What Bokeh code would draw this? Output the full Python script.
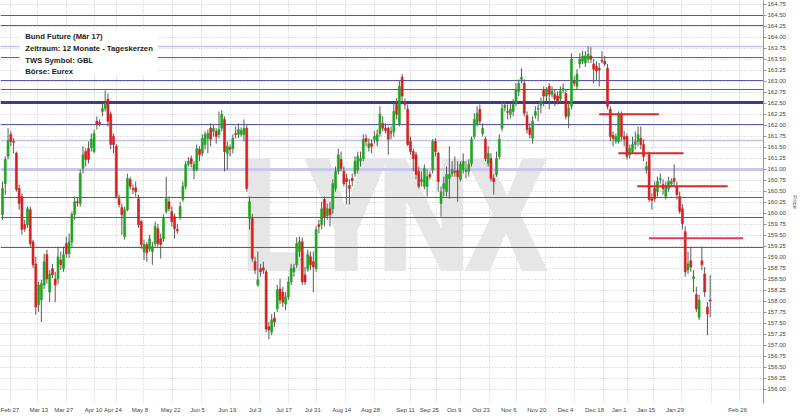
from bokeh.plotting import figure
from bokeh.models import (ColumnDataSource, FixedTicker, Range1d, Label,
                          CustomJSTickFormatter, PrintfTickFormatter)
from bokeh.embed import file_html
from bokeh.resources import INLINE

# ---------------- data ----------------
opens = [
    159.97, 160.67, 161.29, 161.79, 161.63, 161.36, 160.56, 160.38, 159.74, 159.74,
    160.08, 159.35, 158.85, 157.92, 158.03, 158.37, 159.06, 158.21, 158.74, 158.51,
    158.51, 158.94, 158.74, 159.31, 159.08, 159.35, 159.97, 160.26, 160.22, 161.02,
    161.40, 161.47, 161.49, 161.40, 162.09, 162.06, 162.31, 162.38, 162.59, 162.25,
    161.74, 161.52, 160.33, 160.13, 159.47, 160.08, 160.77, 160.56, 160.58, 160.33,
    159.81, 159.13, 159.29, 159.19, 159.13, 159.31, 159.65, 159.42, 159.42, 160.04,
    160.26, 160.04, 159.92, 159.63, 159.92, 160.31, 160.61, 161.11, 161.24, 160.97,
    160.99, 161.45, 161.36, 161.56, 161.70, 161.93, 161.86, 161.86, 161.79, 161.93,
    162.13, 161.36, 161.49, 161.47, 161.81, 161.79, 161.79, 161.79, 161.93, 159.88,
    159.88, 158.90, 158.37, 158.74, 158.76, 158.67, 157.42, 157.30, 157.62, 157.83,
    158.28, 158.21, 157.94, 158.10, 158.44, 158.67, 158.83, 159.13, 159.35, 158.60,
    158.74, 159.01, 158.90, 158.74, 159.74, 159.74, 160.31, 159.94, 160.10, 160.10,
    160.56, 160.95, 161.22, 160.95, 160.79, 160.63, 160.79, 160.90, 160.99, 161.18,
    161.24, 161.70, 161.49, 161.58, 161.68, 161.63, 161.81, 162.04, 161.93, 161.93,
    161.81, 161.86, 162.47, 162.02, 163.09, 162.54, 162.36, 161.63, 161.40, 161.33,
    160.95, 160.72, 160.61, 160.61, 160.88, 160.99, 161.63, 161.36, 160.22, 160.56,
    160.49, 160.79, 160.90, 160.95, 160.97, 160.77, 160.99, 160.95, 160.95, 161.13,
    161.74, 162.02, 162.36, 161.81, 161.68, 161.13, 161.24, 160.79, 160.88, 161.29,
    161.93, 162.40, 162.31, 162.25, 162.31, 162.50, 162.77, 163.04, 162.95, 162.22,
    161.93, 161.70, 162.22, 162.36, 162.45, 162.79, 162.66, 162.88, 162.70, 162.70,
    162.66, 162.59, 162.79, 162.72, 162.20, 162.43, 163.00, 162.88, 163.39, 163.45,
    163.41, 163.50, 163.57, 163.39, 163.34, 163.29, 163.47, 163.45, 163.29, 162.36,
    161.77, 161.63, 161.63, 162.25, 161.74, 161.74, 161.33, 161.40, 161.56, 161.63,
    161.70, 161.56, 160.99, 161.33, 160.33, 160.56, 160.49, 160.77, 160.65, 160.38,
    160.56, 160.67, 160.79, 160.61, 160.38, 160.10, 159.58, 158.71, 158.92, 158.51,
    158.15, 157.64, 158.92, 158.62, 157.87, 158.03,
]
closes = [
    160.56, 161.22, 161.65, 161.63, 161.61, 160.54, 160.22, 159.63, 159.65, 160.10,
    159.31, 158.83, 157.87, 158.37, 158.40, 158.90, 158.51, 158.62, 158.60, 158.37,
    159.01, 158.83, 159.06, 159.08, 159.35, 159.97, 160.26, 160.24, 160.90, 161.33,
    161.22, 161.22, 161.68, 161.81, 162.02, 162.04, 162.38, 162.50, 162.09, 161.56,
    161.56, 160.38, 160.20, 159.97, 160.08, 160.79, 160.61, 160.54, 160.49, 159.74,
    159.29, 159.29, 159.10, 159.42, 159.24, 159.70, 159.31, 159.29, 159.88, 160.33,
    160.10, 159.81, 159.65, 159.60, 160.15, 160.61, 161.11, 161.18, 161.13, 161.11,
    161.47, 161.33, 161.70, 161.79, 161.81, 161.68, 161.93, 161.74, 161.90, 162.25,
    161.40, 161.52, 161.45, 161.70, 161.79, 161.90, 161.88, 161.93, 160.56, 160.26,
    158.97, 158.71, 158.49, 158.67, 158.71, 157.37, 157.35, 157.58, 157.53, 158.26,
    158.03, 157.98, 158.10, 158.44, 158.74, 158.76, 159.31, 159.35, 158.44, 158.44,
    159.06, 158.83, 158.78, 159.63, 159.70, 160.10, 159.92, 160.10, 159.97, 160.67,
    160.95, 161.33, 161.02, 160.67, 160.72, 160.56, 160.74, 161.18, 161.29, 161.24,
    161.68, 161.63, 161.58, 161.52, 161.74, 161.79, 162.25, 161.93, 161.88, 161.68,
    161.86, 162.31, 162.25, 162.88, 162.66, 162.47, 161.56, 161.40, 161.24, 160.88,
    160.61, 160.77, 161.02, 160.83, 160.83, 161.63, 161.40, 160.72, 160.49, 160.67,
    160.88, 160.88, 160.99, 160.93, 160.83, 161.11, 161.18, 160.97, 161.11, 161.68,
    162.13, 162.27, 162.09, 161.93, 161.24, 161.36, 160.79, 160.72, 161.24, 161.68,
    162.38, 162.45, 162.29, 162.36, 162.47, 162.81, 162.95, 163.09, 162.27, 161.90,
    161.79, 162.09, 162.31, 162.38, 162.54, 162.66, 162.79, 162.70, 162.77, 162.59,
    162.54, 162.77, 162.84, 162.20, 162.38, 163.50, 162.95, 163.16, 163.50, 163.57,
    163.57, 163.61, 163.50, 163.27, 163.23, 163.25, 163.45, 163.39, 162.43, 161.74,
    161.70, 161.74, 162.25, 161.74, 161.68, 161.29, 161.47, 161.56, 161.63, 161.79,
    161.56, 161.29, 161.06, 160.31, 160.29, 160.33, 160.72, 160.79, 160.56, 160.61,
    160.72, 160.72, 160.72, 160.42, 160.04, 159.76, 158.67, 158.85, 158.78, 158.56,
    157.83, 158.03, 158.83, 158.21, 157.71, 158.01,
]
highs = [
    160.72, 161.29, 161.93, 161.86, 161.70, 161.40, 160.65, 160.45, 159.85, 160.15,
    160.15, 159.40, 159.01, 158.44, 158.49, 159.08, 159.17, 158.71, 158.85, 158.67,
    159.24, 159.13, 159.24, 159.47, 159.54, 160.04, 160.38, 160.35, 160.99, 161.52,
    161.47, 161.63, 161.81, 161.90, 162.20, 162.13, 162.54, 162.79, 162.72, 162.31,
    161.81, 161.56, 160.42, 160.22, 160.15, 160.90, 160.83, 160.65, 160.72, 160.42,
    159.85, 159.40, 159.35, 159.51, 159.35, 159.81, 159.76, 159.54, 159.97, 160.83,
    160.38, 160.15, 159.99, 159.76, 160.26, 160.72, 161.18, 161.27, 161.31, 161.18,
    161.56, 161.52, 161.79, 161.86, 161.90, 162.04, 162.00, 161.93, 162.31, 162.34,
    162.20, 161.63, 161.56, 161.79, 161.97, 162.04, 161.95, 162.13, 162.00, 160.38,
    159.99, 159.01, 159.13, 158.85, 158.90, 158.71, 157.53, 157.71, 157.76, 158.37,
    158.51, 158.33, 158.21, 158.56, 158.85, 158.85, 159.45, 159.47, 159.45, 158.78,
    159.17, 159.13, 159.13, 159.70, 159.85, 160.26, 160.38, 160.22, 160.26, 160.77,
    161.06, 161.47, 161.40, 161.06, 160.90, 160.77, 160.90, 161.29, 161.40, 161.40,
    161.79, 161.79, 161.70, 161.68, 161.86, 161.90, 162.43, 162.20, 162.04, 161.97,
    161.97, 162.54, 162.61, 163.00, 163.16, 162.61, 162.47, 161.74, 161.47, 161.40,
    161.06, 160.95, 161.11, 160.99, 160.95, 161.68, 161.70, 161.40, 160.61, 160.83,
    161.06, 161.52, 161.18, 161.29, 161.18, 161.18, 161.36, 161.18, 161.22, 161.74,
    162.27, 162.43, 162.47, 162.04, 161.74, 161.52, 161.36, 160.88, 161.40, 161.79,
    162.54, 162.54, 162.47, 162.50, 162.59, 162.95, 163.04, 163.29, 163.04, 162.31,
    162.04, 162.20, 162.43, 162.47, 162.63, 162.88, 162.86, 162.95, 162.88, 162.81,
    162.77, 162.88, 162.95, 162.81, 162.54, 163.63, 163.11, 163.27, 163.63, 163.68,
    163.68, 163.79, 163.77, 163.50, 163.45, 163.41, 163.68, 163.57, 163.39, 162.43,
    161.86, 161.81, 162.31, 162.31, 161.86, 161.81, 161.56, 161.74, 161.86, 161.97,
    161.97, 161.68, 161.18, 161.40, 160.45, 160.72, 160.83, 160.90, 160.77, 160.72,
    160.83, 160.79, 161.11, 160.72, 160.49, 160.20, 159.70, 159.13, 159.24, 158.71,
    158.33, 158.15, 159.24, 158.78, 157.98, 158.60,
]
lows = [
    159.85, 160.42, 161.22, 161.52, 161.36, 160.49, 160.08, 159.51, 159.58, 159.67,
    159.24, 158.76, 157.69, 157.76, 157.53, 158.28, 158.40, 157.98, 158.53, 157.98,
    158.40, 158.71, 158.67, 158.99, 158.99, 159.24, 159.85, 160.15, 160.15, 160.90,
    161.06, 161.13, 161.40, 161.36, 161.90, 161.97, 162.20, 162.31, 161.97, 161.45,
    161.36, 160.33, 160.13, 159.51, 159.40, 160.04, 160.54, 160.44, 160.38, 159.67,
    159.19, 158.94, 158.90, 159.13, 158.83, 159.24, 159.24, 158.97, 159.35, 159.99,
    160.04, 159.70, 159.42, 159.54, 159.85, 160.26, 160.54, 161.06, 161.04, 160.77,
    160.95, 161.18, 161.29, 161.45, 161.36, 161.52, 161.74, 161.58, 161.70, 161.86,
    160.95, 160.99, 161.29, 161.36, 161.70, 161.70, 161.74, 161.63, 160.49, 159.63,
    158.90, 158.62, 158.33, 158.56, 158.62, 157.30, 157.14, 157.23, 157.42, 157.76,
    157.94, 157.87, 157.80, 158.03, 158.37, 158.56, 158.76, 159.01, 158.37, 158.37,
    158.67, 158.71, 158.21, 158.67, 159.54, 159.63, 159.70, 159.85, 159.70, 159.99,
    160.49, 160.88, 160.95, 160.61, 160.20, 160.20, 160.61, 160.83, 160.90, 161.06,
    161.18, 161.52, 161.40, 161.36, 161.58, 161.52, 161.74, 161.86, 161.81, 161.33,
    161.68, 161.74, 162.13, 161.97, 162.54, 162.36, 161.52, 161.33, 160.95, 160.77,
    160.56, 160.61, 160.54, 160.38, 160.77, 160.90, 161.29, 160.49, 159.92, 160.38,
    160.38, 160.33, 160.83, 160.83, 160.26, 160.72, 160.90, 160.79, 160.83, 161.06,
    161.68, 161.97, 162.02, 161.74, 161.18, 161.06, 160.72, 160.42, 160.83, 161.22,
    161.86, 162.31, 162.13, 162.15, 162.20, 162.43, 162.66, 162.95, 162.20, 161.81,
    161.70, 161.58, 162.15, 162.09, 162.27, 162.43, 162.54, 162.36, 162.63, 162.43,
    162.47, 162.50, 162.72, 162.13, 161.93, 162.36, 162.88, 162.81, 163.29, 163.39,
    163.32, 163.41, 163.41, 162.95, 163.00, 162.88, 163.41, 163.34, 162.36, 161.63,
    161.52, 161.58, 161.58, 161.63, 161.52, 161.22, 161.24, 161.36, 161.45, 161.52,
    161.45, 161.18, 160.90, 160.26, 160.08, 160.26, 160.38, 160.67, 160.42, 160.31,
    160.49, 160.61, 160.61, 160.31, 159.99, 159.63, 158.56, 158.62, 158.67, 158.21,
    157.76, 157.58, 158.71, 158.10, 157.23, 157.64,
]

# x tick labels (trading-day index positions)
tick_labels = ["Feb 27", "Mar 13", "Mar 27", "Apr 10", "Apr 24", "May 8", "May 22",
               "Jun 5", "Jun 19", "Jul 3", "Jul 17", "Jul 31", "Aug 14", "Aug 28",
               "Sep 11", "Sep 25", "Oct 9", "Oct 23", "Nov 6", "Nov 20", "Dec 4",
               "Dec 18", "Jan 1", "Jan 15", "Jan 29", "Feb 26"]
tick_pos = [1.97, 13.08, 22.04, 32.8, 39.8, 49.5, 60.6, 70.3, 81.0, 91.0, 101.4,
            111.8, 122.2, 132.6, 145.2, 153.8, 162.7, 172.4, 182.4, 192.5, 202.9,
            213.3, 222.2, 231.9, 242.3, 264.9]
grid_pos = [2.9, 12.5, 22.9, 33.3, 41.2, 50.9, 61.3, 71.7, 82.1, 92.5, 102.9, 113.3,
            123.7, 134.1, 147.0, 156.3, 165.2, 175.6, 185.3, 195.7, 206.1, 216.5,
            225.1, 234.4, 244.8, 255.6, 265.6]
price_ticks = [156.00, 156.25, 156.50, 156.75, 157.00, 157.25, 157.50, 157.75,
               158.00, 158.25, 158.50, 158.75, 159.00, 159.25, 159.50, 159.75,
               160.00, 160.25, 160.50, 160.75, 161.00, 161.25, 161.50, 161.75,
               162.00, 162.25, 162.50, 162.75, 163.00, 163.25, 163.50, 163.75,
               164.00, 164.25, 164.50, 164.75]

# horizontal support / resistance lines
hline_prices = [164.50, 164.27, 163.78, 163.53, 163.02, 162.80, 162.52, 162.01,
                161.65, 160.99, 160.35, 159.91, 159.23]
hline_kind = ["blue", "blue", "light", "blue", "blue", "blue", "thick", "blue",
              "light", "lightthick", "blue", "blue", "blue"]

# red target lines
target_prices = [162.25, 161.36, 160.61, 159.43]
target_start = [215.0, 221.9, 228.7, 232.9]
target_end = [236.5, 245.4, 261.3, 266.9]
target_kind = ["red", "red", "red", "pink"]

info_lines = ["Bund Future (Mär 17)", "Zeitraum: 12 Monate - Tageskerzen",
              "TWS Symbol: GBL", "Börse: Eurex"]

# watermark letters
wm_letters = ["L", "Y", "N", "X"]
wm_x = [98.7, 123.8, 151.8, 181.5]
wm_anchor = 159.92

# ---------------- styles ----------------
GREEN = "#1fa51f"
RED = "#d81e1e"
WICK = "#5a5a5a"
kind_style = {"blue": ("#5858a8", 1.0), "light": ("#c2c2e6", 1.6),
              "thick": ("#3a3a96", 3.0), "lightthick": ("#c8c8ec", 3.0)}
target_style = {"red": "#dc2a2a", "pink": "#e23a5e"}
WM_FONT = "'Roboto Condensed', 'Open Sans Condensed', 'Liberation Sans Narrow', 'DejaVu Sans Condensed', Roboto"

n = len(closes)
xs = list(range(n))
src = ColumnDataSource(dict(
    x=xs, h=highs, l=lows,
    top=[max(a, b) for a, b in zip(opens, closes)],
    bot=[min(a, b) for a, b in zip(opens, closes)],
    col=[GREEN if c >= o else RED for o, c in zip(opens, closes)],
))

p = figure(width=800, height=416, output_backend="svg", toolbar_location=None,
           x_range=Range1d(-0.72, 274.2), y_range=Range1d(155.68, 164.83),
           y_axis_location="right", min_border_left=0, min_border_top=0,
           min_border_right=33, min_border_bottom=13,
           background_fill_color="white", border_fill_color="white",
           outline_line_color=None)

# grid
p.xgrid.ticker = FixedTicker(ticks=grid_pos)
p.ygrid.ticker = FixedTicker(ticks=price_ticks)
for g in (p.xgrid, p.ygrid):
    g.grid_line_color = "#c4c4c4"
    g.grid_line_dash = "1 2"
    g.grid_line_width = 1

# watermark (one text per letter)
for letter, lx in zip(wm_letters, wm_x):
    p.add_layout(Label(x=lx, y=wm_anchor, text=letter, text_font=WM_FONT,
                       text_font_style="bold", text_font_size="158px",
                       text_color="#e6e6e6", text_align="center",
                       text_baseline="alphabetic", level="underlay"))

# horizontal lines
p.hspan(y=hline_prices,
        line_color=[kind_style[k][0] for k in hline_kind],
        line_width=[kind_style[k][1] for k in hline_kind])

# candles
p.segment(x0="x", y0="h", x1="x", y1="l", source=src, line_color=WICK, line_width=1)
p.vbar(x="x", width=0.72, top="top", bottom="bot", source=src,
       fill_color="col", line_color="col", line_width=0.6)

# red target lines
p.segment(x0=target_start, x1=target_end, y0=target_prices, y1=target_prices,
          line_color=[target_style[k] for k in target_kind], line_width=2)

# info box
p.quad(left=[6.1], right=[55.9], top=[164.16], bottom=[163.13],
       fill_color="white", line_color=None)
p.add_layout(Label(x=8.2, y=164.11, text="\n".join(info_lines),
                   text_font="Liberation Sans", text_font_style="bold",
                   text_font_size="7.7px", text_line_height=1.3, text_color="#1a1a1a",
                   text_align="left", text_baseline="top"))

# x axis
xa = p.xaxis[0]
xa.ticker = FixedTicker(ticks=tick_pos)
xa.formatter = CustomJSTickFormatter(args=dict(pos=tick_pos, labels=tick_labels), code="""
    let best = 0, d = 1e9;
    for (let i = 0; i < pos.length; i++) {
        const dd = Math.abs(pos[i] - tick);
        if (dd < d) { d = dd; best = i; }
    }
    return labels[best];
""")
xa.axis_line_color = None
xa.major_tick_line_color = None
xa.major_tick_out = 0
xa.major_tick_in = 0
xa.minor_tick_line_color = None
xa.minor_tick_out = 0
xa.major_label_standoff = 3
xa.major_label_text_font = "Liberation Sans"
xa.major_label_text_font_size = "6px"
xa.major_label_text_color = "#444444"

# y axis (right)
ya = p.yaxis[0]
ya.ticker = FixedTicker(ticks=price_ticks)
ya.formatter = PrintfTickFormatter(format="%.2f")
ya.axis_line_color = "#999999"
ya.major_tick_line_color = "#999999"
ya.major_tick_out = 3
ya.major_tick_in = 0
ya.minor_tick_line_color = None
ya.minor_tick_out = 0
ya.major_label_standoff = 1
ya.major_label_text_font = "Liberation Sans"
ya.major_label_text_font_size = "6px"
ya.major_label_text_color = "#444444"
ya.axis_label = "Price"
ya.axis_label_text_font = "Liberation Sans"
ya.axis_label_text_font_size = "6px"
ya.axis_label_text_font_style = "normal"
ya.axis_label_text_color = "#444444"
ya.axis_label_standoff = 3

open("out.html", "w").write(file_html(p, INLINE))
